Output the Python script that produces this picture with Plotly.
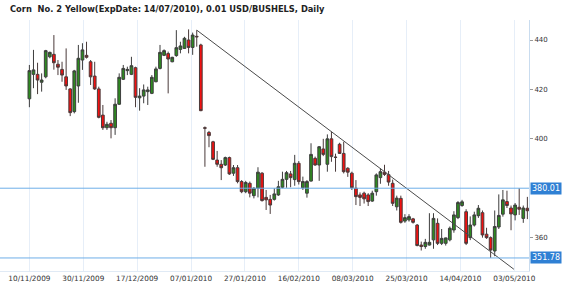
import plotly.graph_objects as go

open_ = [416.2,426.1,426.1,422.9,425.1,433.2,434.2,430.2,428.1,425.1,
         420.2,411.0,421.4,431.9,433.8,431.2,425.4,420.2,409.6,404.5,
         406.3,404.5,414.0,424.1,427.6,426.1,428.8,416.6,417.3,419.1,
         418.4,423.1,428.5,433.8,434.5,431.2,433.7,436.2,436.6,440.0,
         437.0,441.5,438.0,404.5,402.6,398.8,391.4,389.7,389.4,392.4,
         386.1,388.3,382.7,378.6,382.0,377.0,380.0,386.1,376.3,375.5,
         375.5,377.3,380.4,383.6,385.8,383.5,390.1,380.2,378.0,382.9,
         392.1,389.4,395.9,389.7,400.0,392.6,397.8,394.1,388.1,386.1,
         380.0,377.3,378.0,377.3,374.8,378.6,384.3,386.5,385.5,382.0,
         372.5,375.9,366.7,367.2,367.6,365.1,357.0,356.4,357.0,359.1,
         365.8,357.7,357.7,359.1,363.1,368.1,373.0,370.5,360.0,365.1,
         368.9,370.1,361.4,360.0,354.6,364.3,369.5,374.6,372.0,369.2,
         372.3,367.8,371.9]
high = [429.9,436.0,430.8,426.5,436.0,435.3,442.0,431.9,431.2,436.6,
        420.5,427.9,438.0,438.7,439.3,431.9,431.2,421.1,413.7,406.9,
        407.6,416.4,426.5,429.9,429.2,433.2,429.2,420.5,422.0,421.1,
        425.8,429.2,438.0,436.2,435.3,433.2,444.0,439.3,441.3,444.3,
        443.0,444.0,438.5,405.0,403.2,399.2,395.1,391.4,392.8,392.8,
        389.4,389.4,383.3,383.0,382.7,380.4,388.5,386.5,379.3,377.3,
        380.0,383.0,386.7,387.0,387.0,393.5,391.0,384.7,383.3,398.2,
        392.8,397.1,400.0,401.8,402.9,394.0,398.4,398.8,388.5,386.7,
        383.3,378.3,378.6,378.0,379.0,386.0,388.1,389.5,387.0,383.5,
        377.0,377.0,369.5,369.5,368.0,365.5,358.4,359.5,369.9,369.9,
        367.8,363.5,360.0,364.5,370.7,374.8,375.3,371.5,368.6,370.5,
        373.2,371.0,364.0,360.5,371.0,377.5,379.3,379.0,373.0,374.0,
        380.0,373.0,376.5]
low = [412.8,420.5,418.1,419.1,424.5,432.6,428.0,425.8,423.1,419.8,
       409.2,410.3,414.6,427.9,432.5,421.8,419.8,408.3,403.6,403.6,
       400.2,401.6,413.7,423.8,425.8,425.8,412.8,411.4,414.4,413.7,
       418.1,422.9,428.1,433.5,418.4,431.0,433.2,434.6,436.4,434.6,
       434.0,437.3,411.2,388.7,396.6,391.4,388.7,383.3,389.0,385.4,
       385.0,382.0,378.0,378.0,376.3,375.9,376.3,374.6,371.2,369.6,
       375.0,376.9,380.0,380.2,380.4,381.0,381.5,379.3,376.2,382.7,
       389.1,383.0,393.0,386.7,390.7,386.7,393.9,386.0,384.6,379.3,
       373.2,372.8,373.8,372.8,374.5,377.0,381.8,385.0,381.0,372.8,
       371.0,365.7,366.0,366.5,365.7,356.5,354.8,355.5,356.8,355.5,
       357.0,357.0,356.8,358.5,362.0,367.5,372.5,357.0,359.0,364.5,
       368.0,360.0,359.5,351.8,352.5,363.5,368.5,372.0,363.0,367.0,
       369.2,366.0,367.5]
close = [427.6,427.9,423.8,423.8,435.7,435.0,430.8,429.0,425.8,421.4,
         410.6,427.5,432.6,436.0,433.0,425.1,420.2,408.7,404.5,405.9,
         404.5,414.0,424.9,428.5,428.1,429.6,416.8,417.3,419.8,419.8,
         424.9,428.3,435.0,435.7,432.3,433.0,436.9,437.6,440.7,437.0,
         442.0,441.3,411.4,404.3,401.3,391.7,389.7,388.3,392.4,385.8,
         388.3,382.7,378.6,382.3,378.0,380.0,386.5,375.0,375.3,373.2,
         377.7,380.6,383.6,386.3,384.3,390.1,382.7,382.7,382.7,393.7,
         389.4,396.8,393.7,400.0,392.8,392.5,394.1,386.7,386.5,380.2,
         376.6,376.3,375.7,374.6,378.0,385.4,386.7,385.6,382.5,373.9,
         376.0,366.2,368.1,368.5,366.2,356.8,356.4,358.1,358.1,367.8,
         357.7,359.7,359.9,363.8,369.2,374.2,374.5,357.7,365.1,369.2,
         371.9,361.1,360.0,355.0,364.5,369.0,375.3,373.0,369.6,373.2,
         371.5,372.0,370.9]

tick_labels = ["10/11/2009", "30/11/2009", "17/12/2009", "07/01/2010", "27/01/2010",
               "16/02/2010", "08/03/2010", "25/03/2010", "14/04/2010", "03/05/2010"]
TICK_STEP = 13.2
price_ticks = [360, 400, 420, 440]
levels = [380.01, 351.78]
trend_x = [41, 118.7]
trend_y = [444.0, 347.2]

bars = list(range(len(close)))

W, H = 570, 291
ML, MR, MT, MB = 0, 41, 20, 20
PW, PH = W - ML - MR, H - MT - MB

fig = go.Figure()
fig.add_trace(go.Candlestick(
    x=bars, open=open_, high=high, low=low, close=close,
    increasing=dict(line=dict(color="#3d3d3d", width=1), fillcolor="#2e8a20"),
    decreasing=dict(line=dict(color="#4a3a3a", width=1), fillcolor="#f21010"),
    whiskerwidth=0, showlegend=False, hoverinfo="skip",
))

fig.add_trace(go.Scatter(x=trend_x, y=trend_y, mode="lines",
                         line=dict(color="#4a4a4a", width=1),
                         showlegend=False, hoverinfo="skip", cliponaxis=True))

shapes = []
for lv in levels:
    shapes.append(dict(type="line", xref="paper", yref="y", x0=0, x1=1, y0=lv, y1=lv,
                       line=dict(color="#6eaee8", width=1), layer="above"))

annotations = [dict(xref="paper", yref="paper", x=8 / PW, y=1 + (MT - 8.5) / PH,
                    xanchor="left", yanchor="middle", showarrow=False,
                    text="<b>Corn  No. 2 Yellow(ExpDate: 14/07/2010), 0.01 USD/BUSHELS, Daily</b>",
                    font=dict(family="DejaVu Sans", size=8.3, color="#222"))]
for lv in levels:
    annotations.append(dict(xref="paper", yref="y", x=1, y=lv, xanchor="left", yanchor="middle",
                            xshift=1, showarrow=False, text=f"{lv:.2f}",
                            bgcolor="#2f80d4", borderpad=1,
                            font=dict(family="DejaVu Sans", size=8, color="white")))

fig.update_layout(
    width=W, height=H,
    margin=dict(l=ML, r=MR, t=MT, b=MB),
    paper_bgcolor="white", plot_bgcolor="white",
    boxgap=0.05,
    shapes=shapes, annotations=annotations,
    xaxis=dict(range=[-7.2, 122.4], rangeslider=dict(visible=False),
               tickvals=[k * TICK_STEP for k in range(len(tick_labels))],
               ticktext=tick_labels, showgrid=True, gridcolor="#e6eef8", gridwidth=1,
               zeroline=False, showline=True, linecolor="#e0eaf5", ticks="",
               tickfont=dict(family="DejaVu Sans", size=7.3, color="#333")),
    yaxis=dict(side="right", range=[346.5, 448.1], tickvals=price_ticks,
               showgrid=False, zeroline=False, showline=True, linecolor="#c9dcef",
               ticks="outside", ticklen=3, tickcolor="#999",
               tickfont=dict(family="DejaVu Sans", size=7, color="#333")),
)

fig.write_html("out.html")
